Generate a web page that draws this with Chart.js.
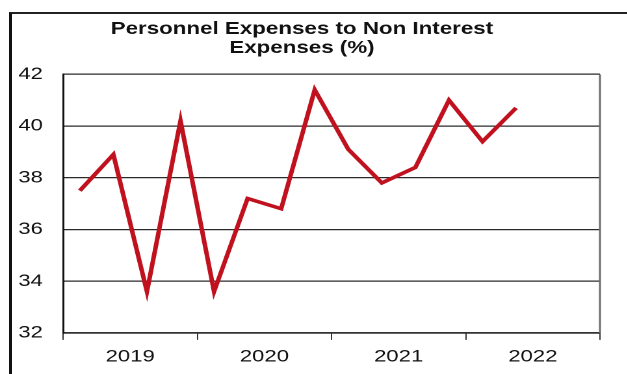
<!DOCTYPE html>
<html>
<head>
<meta charset="utf-8">
<script src="https://cdn.jsdelivr.net/npm/chart.js@4"></script>
<style>
  html, body { margin: 0; padding: 0; background: #fff; overflow: hidden; }
  body { width: 627px; height: 374px; position: relative; }
  /* chart is drawn narrow and stretched sideways, like the exported sheet chart */
  #wrap { position: absolute; left: 0; top: 0; width: 482px; height: 374px;
          transform: scaleX(1.3); transform-origin: 0 0; }
  #frame { position: absolute; left: 9px; top: 12px; right: -20px; bottom: -20px;
           border-left: 3px solid #111; border-top: 2px solid #222; pointer-events: none; }
</style>
</head>
<body>
<div id="wrap"><canvas id="c"></canvas></div>
<div id="frame"></div>
<script>
// quarterly ratio, 2019 Q1 .. 2022 Q2
const quarters = ['Q1 2019', 'Q2 2019', 'Q3 2019', 'Q4 2019',
                  'Q1 2020', 'Q2 2020', 'Q3 2020', 'Q4 2020',
                  'Q1 2021', 'Q2 2021', 'Q3 2021', 'Q4 2021',
                  'Q1 2022', 'Q2 2022', 'Q3 2022', 'Q4 2022'];
const personnelPct = [37.5, 38.9, 33.6, 40.2,
                      33.6, 37.2, 36.8, 41.4,
                      39.1, 37.8, 38.4, 41.0,
                      39.4, 40.7];
const years = ['2019', '2020', '2021', '2022'];
const titleLines = ['Personnel Expenses to Non Interest', 'Expenses (%)'];

const font = "'Liberation Sans', Arial, sans-serif";

// right edge of the plot box
const plotFrame = {
  id: 'plotFrame',
  afterDraw(chart) {
    const { ctx, chartArea: a } = chart;
    ctx.save();
    ctx.strokeStyle = '#6b6b6b';
    ctx.lineWidth = 1.5;
    ctx.beginPath();
    ctx.moveTo(a.right, a.top);
    ctx.lineTo(a.right, a.bottom);
    ctx.stroke();
    ctx.restore();
  }
};

new Chart(document.getElementById('c'), {
  type: 'line',
  data: {
    labels: quarters,
    datasets: [{
      data: personnelPct,
      borderColor: '#c0111f',
      borderWidth: 3.5,
      pointRadius: 0,
      tension: 0,
      xAxisID: 'x',
      yAxisID: 'y'
    }]
  },
  options: {
    responsive: true,
    maintainAspectRatio: false,
    devicePixelRatio: 2,
    animation: false,
    layout: { padding: { left: 3, right: 20.5, top: 0, bottom: 0.7 } },
    plugins: {
      legend: { display: false },
      tooltip: { enabled: false },
      title: {
        display: true,
        text: titleLines,
        color: '#111',
        font: { family: font, size: 17.2, weight: 'bold', lineHeight: 1.1 },
        padding: { top: 20, bottom: 16.5 }
      }
    },
    scales: {
      x: {
        type: 'category',
        display: false,
        offset: true
      },
      years: {
        type: 'category',
        labels: years,
        position: 'bottom',
        offset: true,
        grid: { offset: true, drawOnChartArea: false, tickLength: 7, color: '#333', lineWidth: 1 },
        border: { display: true, color: '#333', width: 1.5 },
        ticks: { color: '#111', padding: 6.5, font: { family: font, size: 17 } }
      },
      y: {
        min: 32,
        max: 42,
        afterFit(scale) { scale.width = 45.5; },
        ticks: { stepSize: 2, color: '#111', padding: 15.5, font: { family: font, size: 17 } },
        grid: { color: '#2a2a2a', lineWidth: 1.2, drawTicks: false },
        border: { display: true, color: '#111', width: 1.5 }
      }
    }
  },
  plugins: [plotFrame]
});
</script>
</body>
</html>
